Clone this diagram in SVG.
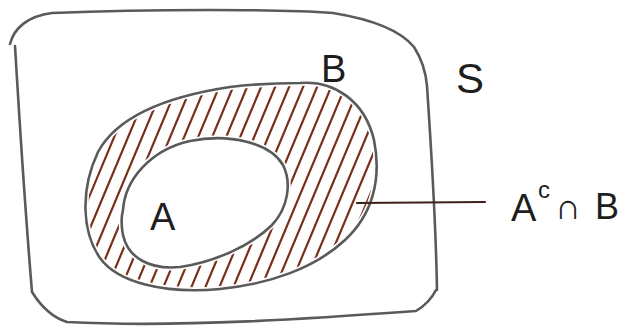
<svg xmlns="http://www.w3.org/2000/svg" width="620" height="328" viewBox="0 0 620 328">
<style>
.outline{fill:none;stroke:#5a5a5a;stroke-width:2.6;stroke-linecap:round;stroke-linejoin:round}
.hatch{stroke:#7a2e1c;stroke-width:2.2;stroke-linecap:round}
.lbl{font-family:"Liberation Sans",Arial,sans-serif;fill:#1e1e1e}
.gap{fill:none;stroke:#ffffff;stroke-width:6}
</style>
<defs>
<clipPath id="ring">
<path clip-rule="evenodd" d="M 300 83 C 335 80, 365 102, 374 140 C 382 180, 372 215, 345 240 C 315 268, 270 284, 220 289 C 165 294, 118 283, 100 258 C 82 232, 80 190, 98 152 C 118 115, 170 96, 230 87 C 255 84, 280 83, 300 83 Z M 123 210 C 125 180, 150 150, 190 141 C 230 133, 270 143, 283 165 C 292 183, 288 208, 272 225 C 252 245, 215 262, 180 267 C 150 270, 128 258, 123 235 C 121 225, 121 218, 123 210 Z"/>
</clipPath>
</defs>
<rect width="620" height="328" fill="#ffffff"/>
<g id="S">
<path class="outline" d="M 10 44 C 14 28, 28 16, 52 13 C 150 9, 280 9, 333 13 C 370 19, 400 30, 414 47 C 423 61, 426 74, 427 86 C 432 160, 436 230, 437 290"/>
<path class="outline" d="M 15 46 C 20 130, 26 220, 32 292 C 42 308, 54 318, 67 322 C 180 328, 320 318, 416 311 C 426 305, 432 298, 436 290"/>
</g>
<g id="hatching" clip-path="url(#ring)">
<path class="hatch" d="M 18 300 l 92 -220 M 32 300 l 92 -220 M 46 300 l 92 -220 M 60 300 l 92 -220 M 74 300 l 92 -220 M 88 300 l 92 -220 M 102 300 l 92 -220 M 116 300 l 92 -220 M 130 300 l 92 -220 M 144 300 l 92 -220 M 158 300 l 92 -220 M 172 300 l 92 -220 M 186 300 l 92 -220 M 200 300 l 92 -220 M 214 300 l 92 -220 M 228 300 l 92 -220 M 242 300 l 92 -220 M 256 300 l 92 -220 M 270 300 l 92 -220 M 284 300 l 92 -220 M 298 300 l 92 -220 M 312 300 l 92 -220 M 326 300 l 92 -220"/>
</g>
<g id="B">
<path class="gap" d="M 300 83 C 335 80, 365 102, 374 140 C 382 180, 372 215, 345 240 C 315 268, 270 284, 220 289 C 165 294, 118 283, 100 258 C 82 232, 80 190, 98 152 C 118 115, 170 96, 230 87 C 255 84, 280 83, 300 83 Z"/>
<path class="outline" d="M 300 83 C 335 80, 365 102, 374 140 C 382 180, 372 215, 345 240 C 315 268, 270 284, 220 289 C 165 294, 118 283, 100 258 C 82 232, 80 190, 98 152 C 118 115, 170 96, 230 87 C 255 84, 280 83, 300 83 Z"/>
<text class="lbl" x="321" y="82" font-size="38">B</text>
</g>
<g id="A">
<path class="gap" d="M 123 210 C 125 180, 150 150, 190 141 C 230 133, 270 143, 283 165 C 292 183, 288 208, 272 225 C 252 245, 215 262, 180 267 C 150 270, 128 258, 123 235 C 121 225, 121 218, 123 210 Z"/>
<path class="outline" d="M 123 210 C 125 180, 150 150, 190 141 C 230 133, 270 143, 283 165 C 292 183, 288 208, 272 225 C 252 245, 215 262, 180 267 C 150 270, 128 258, 123 235 C 121 225, 121 218, 123 210 Z"/>
<text class="lbl" x="150" y="230" font-size="38">A</text>
</g>
<g id="S-label">
<text class="lbl" x="456" y="93" font-size="42">S</text>
</g>
<g id="connectors">
<path d="M 357 203 L 485 202" fill="none" stroke="#3a2218" stroke-width="2.2" stroke-linecap="round"/>
</g>
<g id="AcB-label">
<text class="lbl" x="511" y="221" font-size="38" fill="#4a2a1e">A<tspan x="538" y="198" font-size="24">c</tspan><tspan x="555" y="219" font-size="36">∩</tspan><tspan x="595" y="219" font-size="36">B</tspan></text>
</g>
</svg>
